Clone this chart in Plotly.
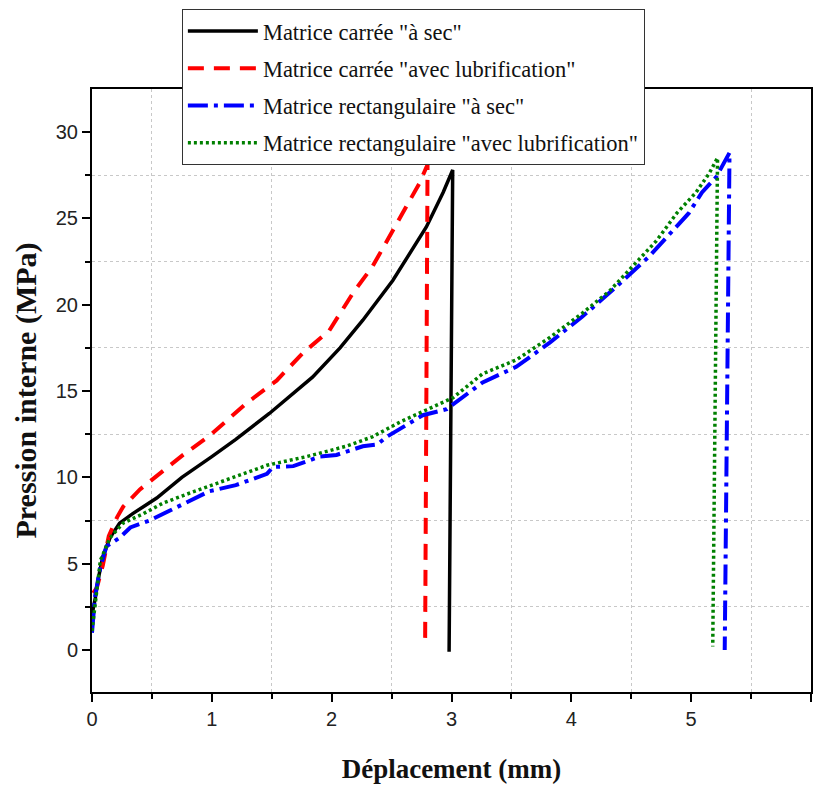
import plotly.graph_objects as go

# Matrice carrée "à sec"
carre_sec_x = [0.0, 0.01, 0.03, 0.05, 0.09, 0.15, 0.23, 0.34, 0.54, 0.75, 1.0, 1.2, 1.48, 1.84, 2.07, 2.26, 2.51, 2.79, 2.93, 3.01, 2.98]
carre_sec_y = [1.8, 2.4, 3.1, 4.05, 5.4, 6.5, 7.35, 7.9, 8.8, 10.0, 11.2, 12.2, 13.7, 15.8, 17.5, 19.1, 21.4, 24.5, 26.5, 27.8, -0.1]

# Matrice carrée "avec lubrification"
carre_lub_x = [0.01, 0.04, 0.09, 0.14, 0.21, 0.26, 0.4, 0.62, 0.76, 0.98, 1.29, 1.54, 1.76, 1.98, 2.18, 2.34, 2.48, 2.62, 2.73, 2.8, 2.78]
carre_lub_y = [3.3, 3.6, 4.9, 6.6, 7.7, 8.3, 9.3, 10.5, 11.3, 12.4, 14.3, 15.6, 17.2, 18.5, 20.7, 22.2, 23.9, 25.7, 27.0, 28.1, 0.6]

# Matrice rectangulaire "à sec"
rect_sec_x = [0.0, 0.025, 0.07, 0.12, 0.23, 0.32, 0.48, 0.65, 0.82, 0.98, 1.2, 1.46, 1.51, 1.68, 1.9, 2.04, 2.26, 2.38, 2.46, 2.62, 2.76, 2.96, 3.04, 3.26, 3.54, 3.82, 4.09, 4.37, 4.65, 4.82, 4.98, 5.09, 5.21, 5.32, 5.28]
rect_sec_y = [1.0, 3.1, 4.8, 6.0, 6.5, 7.1, 7.5, 8.1, 8.7, 9.2, 9.55, 10.2, 10.6, 10.65, 11.2, 11.3, 11.8, 11.9, 12.35, 13.0, 13.6, 13.95, 14.35, 15.5, 16.4, 17.8, 19.3, 21.0, 22.8, 24.1, 25.3, 26.5, 27.4, 28.8, 0.0]

# Matrice rectangulaire "avec lubrification"
rect_lub_x = [0.0, 0.07, 0.15, 0.26, 0.43, 0.59, 0.82, 0.98, 1.18, 1.46, 1.79, 2.12, 2.34, 2.57, 2.79, 3.01, 3.26, 3.54, 3.82, 4.09, 4.32, 4.51, 4.71, 4.88, 5.04, 5.15, 5.22, 5.18]
rect_lub_y = [1.1, 5.2, 6.5, 7.35, 7.9, 8.5, 9.1, 9.5, 10.0, 10.7, 11.2, 11.8, 12.35, 13.2, 13.9, 14.6, 16.0, 16.8, 18.1, 19.5, 20.8, 22.2, 23.7, 25.3, 26.5, 27.6, 28.5, 0.2]

series_names = ['Matrice carrée "à sec"', 'Matrice carrée "avec lubrification"',
                'Matrice rectangulaire "à sec"', 'Matrice rectangulaire "avec lubrification"']

x_ticks = [0, 1, 2, 3, 4, 5, 6]
y_ticks = [0, 5, 10, 15, 20, 25, 30]
# grid lines sit halfway between the major ticks
x_grid = [(a + b) / 2 for a, b in zip(x_ticks[:-1], x_ticks[1:])]
y_grid = [y_ticks[0] - 2.5] + [(a + b) / 2 for a, b in zip(y_ticks[:-1], y_ticks[1:])] + [y_ticks[-1] + 2.5]

X_RANGE = [0, 6]
Y_RANGE = [-2.43, 32.49]

fig = go.Figure()
styles = [
    ("black", "solid", 3.5),
    ("#ff0000", "16px,10px", 4),
    ("#0000ff", "20px,6px,4px,6px", 4),
    ("#008000", "3px,3px", 3.5),
]
data = [(carre_sec_x, carre_sec_y), (carre_lub_x, carre_lub_y), (rect_sec_x, rect_sec_y), (rect_lub_x, rect_lub_y)]
for i, ((xs, ys), (c, d, w), name) in enumerate(zip(data, styles, series_names)):
    fig.add_trace(go.Scatter(x=xs, y=ys, mode="lines", name=name, legendgroup=f"g{i}",
                             line=dict(color=c, dash=d, width=w)))

axis_common = dict(
    showline=True, linecolor="black", linewidth=2, mirror=True,
    ticks="outside", ticklen=8, tickwidth=2, tickcolor="black",
    showgrid=False, zeroline=False,
    tickfont=dict(family="Liberation Sans, Arial", size=20, color="#222"),
)
grid_common = dict(showgrid=True, gridcolor="#c8c8c8", griddash="dot", gridwidth=1,
                   showticklabels=False, ticks="", showline=False, zeroline=False)

fig.update_layout(
    xaxis=dict(range=X_RANGE, tickvals=x_ticks, ticktext=[str(v) for v in x_ticks],
               minor=dict(dtick=0.5, tick0=0, ticks="outside", ticklen=5, tickwidth=2, tickcolor="black", showgrid=False),
               title=dict(text="Déplacement (mm)", standoff=30,
                          font=dict(family="Liberation Serif, Times New Roman", size=27, color="#111", weight="bold")),
               layer="above traces", **axis_common),
    yaxis=dict(range=Y_RANGE, tickvals=y_ticks, ticktext=[str(v) for v in y_ticks],
               minor=dict(dtick=2.5, tick0=0, ticks="outside", ticklen=5, tickwidth=2, tickcolor="black", showgrid=False),
               title=dict(text="Pression interne (MPa)", standoff=10,
                          font=dict(family="Liberation Serif, Times New Roman", size=30, color="#111", weight="bold")),
               **axis_common),
    xaxis2=dict(range=X_RANGE, overlaying="x", anchor="y", tickvals=x_grid, layer="below traces", **grid_common),
    yaxis2=dict(range=Y_RANGE, overlaying="y", anchor="x", tickvals=y_grid, layer="below traces", **grid_common),
    width=813, height=787,
    margin=dict(l=92, r=2, t=89, b=95, autoexpand=False),
    plot_bgcolor="white", paper_bgcolor="white",
    legend=dict(x=0.125, y=1.133, xanchor="left", yanchor="top",
                bgcolor="white", bordercolor="#333", borderwidth=1,
                font=dict(family="Liberation Serif, Times New Roman", size=22.5, color="#111"),
                itemwidth=70, tracegroupgap=5, traceorder="grouped"),
    showlegend=True,
)
# invisible carrier trace so the grid axes are drawn
fig.add_trace(go.Scatter(x=[X_RANGE[0]], y=[Y_RANGE[0]], xaxis="x2", yaxis="y2", mode="markers",
                         marker=dict(opacity=0), showlegend=False, hoverinfo="skip"))

fig.write_html("out.html", config={"displayModeBar": False},
               post_script="document.body.style.margin='0';")
